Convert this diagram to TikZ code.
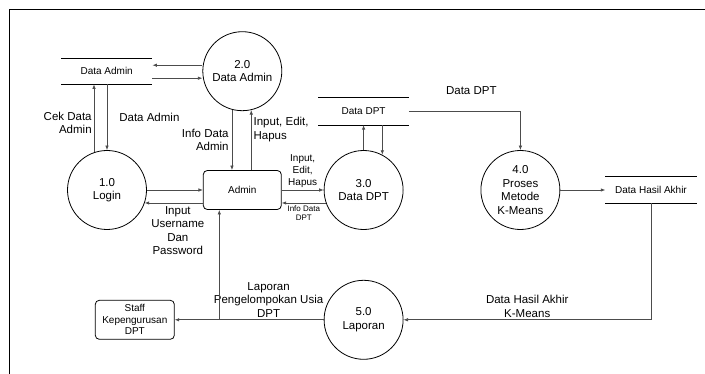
\documentclass[tikz,border=0pt]{standalone}
\usepackage{fontspec}
\setmainfont{Liberation Sans}
\usetikzlibrary{positioning, arrows.meta}

\begin{document}
\begin{tikzpicture}[
        node distance=50pt and 50pt,
        process/.style={circle, draw, line width=0.8pt, minimum size=79pt, inner sep=0pt, align=center, font=\fontsize{11.5}{13.5}\selectfont},
        entity/.style={rectangle, draw, line width=0.8pt, rounded corners=4pt, minimum width=79pt, minimum height=39pt, align=center, font=\fontsize{10}{11.5}\selectfont},
        store/.style={rectangle, minimum width=91pt, minimum height=26pt, font=\fontsize{10}{12}\selectfont,
            append after command={(\tikzlastnode.north west) edge[line width=0.8pt] (\tikzlastnode.north east)
                (\tikzlastnode.south west) edge[line width=0.8pt] (\tikzlastnode.south east)}},
        lbl/.style={align=center, inner sep=2pt, font=\fontsize{11.5}{13.5}\selectfont},
        small/.style={align=center, inner sep=2pt, font=\fontsize{10}{12}\selectfont},
        tiny/.style={align=center, inner sep=2pt, font=\fontsize{8}{9}\selectfont},
        arrow/.style={draw, draw=black!70, line width=0.7pt, -{Latex[length=4.5pt, width=3.5pt]}}
    ]

    \useasboundingbox (0,0) rectangle (705pt,-374pt);
    \draw[line width=0.8pt] (9pt,-374pt) -- (9pt,-9pt) -- (705pt,-9pt);

    % Nodes
    \node (login) [process] at (107pt,-190pt) {1.0\\Login};
    \node (admin) [entity, right=56pt of login, minimum width=78pt] {Admin};
    \node (proc2) [process, above=59pt of admin] {2.0\\Data Admin};
    \node (storeadmin) [store, left=50pt of proc2] {Data Admin};
    \node (proc3) [process, right=42pt of admin] {3.0\\Data DPT};
    \node (storedpt) [store, above=25pt of proc3, minimum width=90pt, minimum height=27pt] {Data DPT};
    \node (proc4) [process, right=77pt of proc3] {4.0\\Proses\\Metode\\K-Means};
    \node (storehasil) [store, right=45pt of proc4] {Data Hasil Akhir};
    \node (proc5) [process, below=50pt of proc3] {5.0\\Laporan};
    \node (staff) [entity, left=149pt of proc5] {Staff\\Kepengurusan\\DPT};

    % Arrows
    \draw [arrow] ([yshift=6pt]proc2.west) -- ([yshift=6pt]storeadmin.east);
    \draw [arrow] ([yshift=-7pt]storeadmin.east) -- ([yshift=-7pt]proc2.west);
    \draw [arrow] (login.109.5) -- (login.109.5 |- storeadmin.south) node[pos=.43, left, lbl, align=right] {Cek Data\\Admin};
    \draw [arrow] (storeadmin.south -| login.north) -- (login.north) node[midway, right=10pt, lbl] {Data Admin};
    \draw [arrow] (login.east) -- (admin.west);
    \draw [arrow] (admin.west |- login.-19.5) -- (login.-19.5) node[midway, below=1pt, xshift=4pt, lbl] {Input\\Username\\Dan\\Password};
    \draw [arrow] (proc2.255) -- (proc2.255 |- admin.north) node[midway, left=1pt, lbl, align=right] {Info Data\\Admin};
    \draw [arrow] (proc2.283 |- admin.north) -- (proc2.283) node[pos=.68, right, lbl, align=left] {Input, Edit,\\Hapus};
    \draw [arrow] (admin.east) -- (proc3.west) node[midway, above, small] {Input,\\Edit,\\Hapus};
    \draw [arrow] (proc3.199) -- (proc3.199 -| admin.east) node[midway, below, tiny] {Info Data\\DPT};
    \draw [arrow] (proc3.north) -- (storedpt.south);
    \draw [arrow] (proc3.62 |- storedpt.south) -- (proc3.62);
    \draw [arrow] (storedpt.east) -| (proc4.north) node[pos=.28, above=14pt, lbl] {Data DPT};
    \draw [arrow] (proc4.east) -- (storehasil.west);
    \draw [arrow] (storehasil.south) |- (proc5.east) node[pos=.75, above, lbl] {Data Hasil Akhir\\K-Means};
    \draw [arrow] (proc5.west) -- (staff.east) node[pos=.37, above, lbl] {Laporan\\Pengelompokan Usia\\DPT};
    \coordinate (branch) at ([xshift=-23pt]admin.south |- proc5.west);
    \draw [arrow] (branch) -- (branch |- admin.south);

\end{tikzpicture}
\end{document}
